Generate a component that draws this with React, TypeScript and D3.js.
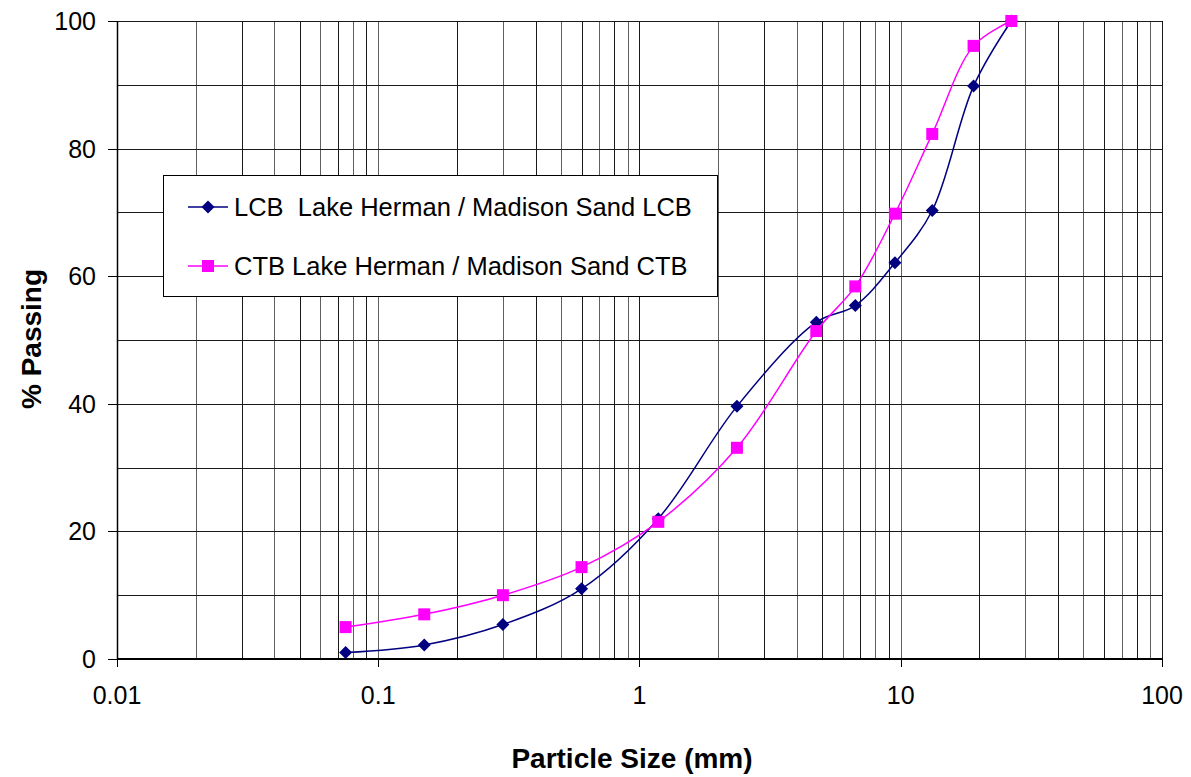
import React from "react";
import * as d3 from "d3";

// sieve sizes (mm)
const sizes = [0.075, 0.15, 0.3, 0.6, 1.18, 2.36, 4.75, 6.7, 9.5, 13.2, 19, 26.5];
const lcb = [1.0, 2.2, 5.4, 11.0, 22.0, 39.6, 52.8, 55.4, 62.1, 70.3, 89.8, 100];
const ctb = [5.0, 7.0, 10.0, 14.4, 21.5, 33.1, 51.4, 58.4, 69.8, 82.3, 96.1, 100];
const xTicks = [0.01, 0.1, 1, 10, 100];
const yTicks = [0, 20, 40, 60, 80, 100];
const seriesNames = ["LCB  Lake Herman / Madison Sand LCB", "CTB Lake Herman / Madison Sand CTB"];

const W = 1191, H = 777;
const mL = 117, mR = 1162, mT = 21, mB = 659;
const font = "'Liberation Sans', Arial, sans-serif";

export default function App() {
  const x = d3.scaleLog().domain([0.01, 100]).range([mL, mR]);
  const y = d3.scaleLinear().domain([0, 100]).range([mB, mT]);

  const minor: number[] = [];
  for (let e = -2; e < 2; e++) {
    for (let k = 1; k <= 9; k++) minor.push(k * Math.pow(10, e));
  }
  minor.push(100);

  const line = d3.line<[number, number]>()
    .x(d => x(d[0]))
    .y(d => y(d[1]))
    .curve(d3.curveCatmullRom.alpha(0.5));

  const lcbPts = sizes.map((s, i) => [s, lcb[i]] as [number, number]);
  const ctbPts = sizes.map((s, i) => [s, ctb[i]] as [number, number]);

  const diamond = (cx: number, cy: number, r = 6.5) =>
    `M${cx},${cy - r}L${cx + r},${cy}L${cx},${cy + r}L${cx - r},${cy}Z`;

  return (
    <svg width={W} height={H} style={{ position: "absolute", left: 0, top: 0, background: "white" }}>
      <rect x={0} y={0} width={W} height={H} fill="white" />
      {/* vertical grid */}
      {minor.map((v, i) => (
        <line key={"v" + i} x1={Math.round(x(v)) + 0.5} x2={Math.round(x(v)) + 0.5} y1={mT} y2={mB}
          stroke={i % 2 ? "#606060" : "#1a1a1a"} strokeWidth={1} />
      ))}
      {/* horizontal grid */}
      {d3.range(10, 101, 10).map(v => (
        <line key={"h" + v} x1={mL} x2={mR} y1={Math.round(y(v)) + 0.5} y2={Math.round(y(v)) + 0.5}
          stroke="#1a1a1a" strokeWidth={1} />
      ))}
      {/* axes */}
      <line x1={mL + 0.5} x2={mL + 0.5} y1={mT} y2={mB} stroke="#000" strokeWidth={1.5} />
      <line x1={mL} x2={mR} y1={mB} y2={mB} stroke="#000" strokeWidth={2} />
      {yTicks.map(v => (
        <g key={"yt" + v}>
          <line x1={mL - 9} x2={mL} y1={Math.round(y(v)) + 0.5} y2={Math.round(y(v)) + 0.5} stroke="#000" />
          <text x={96} y={y(v)} dy="0.36em" textAnchor="end" fontFamily={font} fontSize={25}>{v}</text>
        </g>
      ))}
      {xTicks.map(v => (
        <g key={"xt" + v}>
          <line x1={Math.round(x(v)) + 0.5} x2={Math.round(x(v)) + 0.5} y1={mB} y2={mB + 8} stroke="#000" />
          <text x={x(v)} y={704} textAnchor="middle" fontFamily={font} fontSize={25}>{v}</text>
        </g>
      ))}
      <text x={632} y={768} textAnchor="middle" fontFamily={font} fontSize={28} fontWeight="bold">Particle Size (mm)</text>
      <text transform={`translate(41,339) rotate(-90)`} textAnchor="middle" fontFamily={font} fontSize={28} fontWeight="bold">% Passing</text>

      {/* series */}
      <path d={line(lcbPts) || ""} fill="none" stroke="#000080" strokeWidth={1.5} />
      <path d={line(ctbPts) || ""} fill="none" stroke="#FF00FF" strokeWidth={1.5} />
      {lcbPts.map((p, i) => (
        <path key={"d" + i} d={diamond(x(p[0]), y(p[1]))} fill="#000080" />
      ))}
      {ctbPts.map((p, i) => (
        <rect key={"s" + i} x={x(p[0]) - 6} y={y(p[1]) - 6} width={12} height={12} fill="#FF00FF" />
      ))}

      {/* legend */}
      <rect x={163.5} y={175.5} width={554} height={121} fill="white" stroke="#000" strokeWidth={1} />
      <line x1={188} x2={228} y1={207} y2={207} stroke="#000080" strokeWidth={1.5} />
      <path d={diamond(208, 207)} fill="#000080" />
      <text x={234} y={207} dy="0.36em" fontFamily={font} fontSize={25.5} style={{ whiteSpace: "pre" }}>{seriesNames[0]}</text>
      <line x1={188} x2={228} y1={266} y2={266} stroke="#FF00FF" strokeWidth={1.5} />
      <rect x={202} y={260} width={12} height={12} fill="#FF00FF" />
      <text x={234} y={266} dy="0.36em" fontFamily={font} fontSize={25.5} style={{ whiteSpace: "pre" }}>{seriesNames[1]}</text>
    </svg>
  );
}
